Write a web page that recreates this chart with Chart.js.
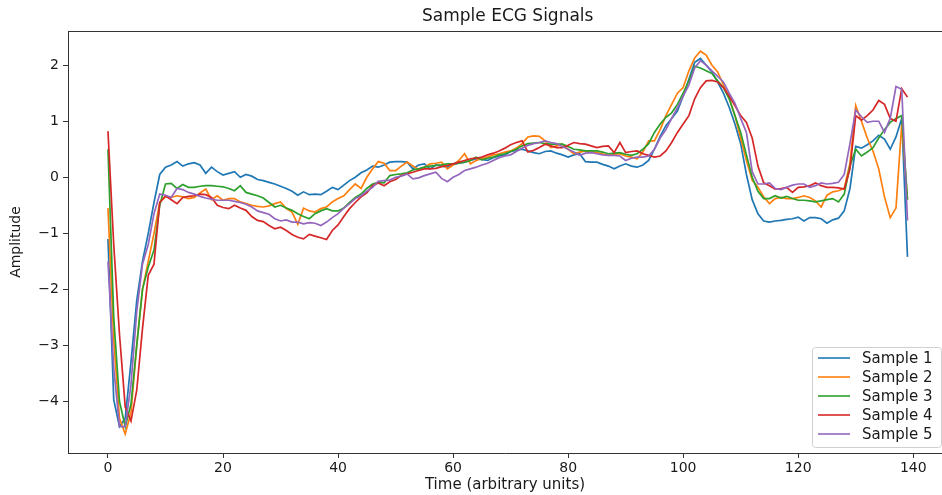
<!DOCTYPE html>
<html>
<head>
<meta charset="utf-8">
<script src="https://cdn.jsdelivr.net/npm/chart.js@4.4.1/dist/chart.umd.min.js"></script>
<style>
	html, body { margin: 0; padding: 0; background: #fff; }
	#wrap { width: 942px; height: 495px; }
</style>
</head>
<body>
<div id="wrap"><canvas id="ecgChart" width="942" height="495"></canvas></div>
<script>
// values, one per time step (0..139)
const sample1 = [
	-1.10, -3.97, -4.45, -4.30, -3.30, -2.20, -1.50, -1.00, -0.45, 0.05,
	0.18, 0.22, 0.28, 0.20, 0.24, 0.26, 0.22, 0.07, 0.18, 0.10,
	0.04, 0.07, 0.10, 0.00, 0.05, 0.02, -0.04, -0.06, -0.09, -0.12,
	-0.16, -0.20, -0.25, -0.32, -0.26, -0.31, -0.30, -0.31, -0.25, -0.18,
	-0.22, -0.14, -0.06, 0.00, 0.08, 0.13, 0.20, 0.18, 0.22, 0.27,
	0.28, 0.28, 0.27, 0.15, 0.22, 0.24, 0.15, 0.22, 0.20, 0.18,
	0.23, 0.25, 0.27, 0.30, 0.33, 0.32, 0.30, 0.35, 0.38, 0.40,
	0.46, 0.48, 0.50, 0.47, 0.44, 0.42, 0.46, 0.47, 0.43, 0.40,
	0.36, 0.40, 0.42, 0.28, 0.27, 0.27, 0.23, 0.20, 0.15, 0.20,
	0.24, 0.20, 0.18, 0.22, 0.30, 0.50, 0.73, 0.92, 1.05, 1.18,
	1.45, 1.75, 2.05, 2.12, 2.00, 1.88, 1.70, 1.50, 1.25, 0.95,
	0.60, 0.05, -0.40, -0.65, -0.78, -0.80, -0.78, -0.77, -0.75, -0.74,
	-0.71, -0.78, -0.72, -0.72, -0.74, -0.82, -0.76, -0.73, -0.60, -0.20,
	0.55, 0.52, 0.58, 0.65, 0.75, 0.68, 0.50, 0.72, 1.05, -1.42
];
const sample2 = [
	-0.55, -2.90, -4.30, -4.58, -4.20, -3.00, -2.00, -1.50, -1.00, -0.45,
	-0.35, -0.36, -0.33, -0.35, -0.38, -0.36, -0.28, -0.21, -0.40, -0.33,
	-0.41, -0.38, -0.38, -0.44, -0.47, -0.50, -0.52, -0.53, -0.51, -0.47,
	-0.44, -0.56, -0.62, -0.84, -0.55, -0.60, -0.62, -0.56, -0.53, -0.44,
	-0.38, -0.33, -0.22, -0.12, -0.20, 0.00, 0.15, 0.28, 0.25, 0.12,
	0.12, 0.20, 0.27, 0.20, 0.14, 0.18, 0.24, 0.25, 0.27, 0.15,
	0.22, 0.30, 0.42, 0.24, 0.30, 0.33, 0.36, 0.40, 0.42, 0.45,
	0.47, 0.52, 0.60, 0.72, 0.74, 0.73, 0.65, 0.53, 0.56, 0.59,
	0.50, 0.42, 0.45, 0.47, 0.46, 0.44, 0.42, 0.39, 0.41, 0.42,
	0.38, 0.36, 0.33, 0.45, 0.65, 0.65, 0.85, 1.10, 1.30, 1.50,
	1.60, 1.90, 2.13, 2.25, 2.18, 2.00, 1.88, 1.65, 1.42, 1.10,
	0.70, 0.30, -0.05, -0.18, -0.35, -0.47, -0.38, -0.36, -0.38, -0.38,
	-0.36, -0.33, -0.36, -0.42, -0.53, -0.32, -0.26, -0.24, -0.20, 0.25,
	1.28, 1.00, 0.70, 0.47, 0.15, -0.35, -0.72, -0.55, 0.95, -0.40
];
const sample3 = [
	0.50, -2.50, -4.00, -4.45, -4.05, -3.00, -2.00, -1.60, -1.30, -0.50,
	-0.12, -0.11, -0.20, -0.13, -0.18, -0.18, -0.16, -0.15, -0.15, -0.16,
	-0.17, -0.20, -0.24, -0.15, -0.27, -0.30, -0.33, -0.37, -0.45, -0.53,
	-0.50, -0.55, -0.59, -0.65, -0.70, -0.74, -0.65, -0.60, -0.56, -0.60,
	-0.60, -0.55, -0.45, -0.36, -0.30, -0.20, -0.12, -0.09, -0.10, 0.03,
	0.05, 0.06, 0.08, 0.13, 0.15, 0.18, 0.20, 0.21, 0.22, 0.24,
	0.24, 0.25, 0.27, 0.30, 0.36, 0.31, 0.34, 0.36, 0.40, 0.42,
	0.46, 0.50, 0.56, 0.60, 0.61, 0.62, 0.60, 0.59, 0.59, 0.59,
	0.55, 0.50, 0.49, 0.47, 0.47, 0.47, 0.45, 0.42, 0.43, 0.44,
	0.41, 0.39, 0.42, 0.50, 0.60, 0.80, 0.95, 1.07, 1.15, 1.30,
	1.50, 1.72, 1.98, 1.95, 1.90, 1.85, 1.72, 1.60, 1.40, 1.10,
	0.80, 0.40, 0.00, -0.25, -0.38, -0.38, -0.33, -0.37, -0.34, -0.38,
	-0.41, -0.41, -0.42, -0.44, -0.42, -0.40, -0.38, -0.44, -0.30, 0.20,
	0.50, 0.38, 0.45, 0.53, 0.70, 0.85, 0.98, 1.05, 1.10, -0.40
];
const sample4 = [
	0.82, -1.20, -2.80, -4.10, -4.35, -3.80, -2.70, -1.75, -1.55, -0.45,
	-0.33, -0.40, -0.47, -0.36, -0.34, -0.33, -0.30, -0.31, -0.36, -0.50,
	-0.54, -0.56, -0.50, -0.55, -0.59, -0.70, -0.77, -0.79, -0.86, -0.92,
	-0.89, -0.95, -1.02, -1.07, -1.10, -1.02, -1.05, -1.08, -1.11, -0.95,
	-0.85, -0.70, -0.56, -0.45, -0.35, -0.28, -0.15, -0.10, -0.15, -0.08,
	-0.04, 0.03, 0.06, 0.09, 0.12, 0.15, 0.15, 0.16, 0.19, 0.21,
	0.24, 0.27, 0.30, 0.33, 0.34, 0.36, 0.40, 0.43, 0.47, 0.52,
	0.58, 0.62, 0.65, 0.45, 0.48, 0.53, 0.59, 0.56, 0.53, 0.53,
	0.57, 0.62, 0.60, 0.59, 0.56, 0.53, 0.55, 0.56, 0.44, 0.62,
	0.44, 0.46, 0.47, 0.42, 0.39, 0.36, 0.38, 0.47, 0.62, 0.80,
	0.95, 1.10, 1.40, 1.60, 1.72, 1.73, 1.70, 1.60, 1.45, 1.28,
	1.10, 0.98, 0.70, 0.20, -0.10, -0.15, -0.21, -0.20, -0.18, -0.27,
	-0.18, -0.17, -0.15, -0.10, -0.15, -0.18, -0.18, -0.19, -0.21, 0.15,
	1.10, 1.02, 1.10, 1.20, 1.37, 1.30, 1.05, 1.00, 1.58, 1.43
];
const sample5 = [
	-1.50, -3.40, -4.45, -4.45, -3.70, -2.40, -1.55, -1.20, -0.65, -0.30,
	-0.32, -0.36, -0.20, -0.22, -0.27, -0.30, -0.34, -0.37, -0.39, -0.41,
	-0.41, -0.41, -0.43, -0.45, -0.48, -0.53, -0.60, -0.63, -0.66, -0.74,
	-0.78, -0.76, -0.80, -0.80, -0.83, -0.81, -0.82, -0.86, -0.80, -0.72,
	-0.65, -0.55, -0.47, -0.38, -0.33, -0.25, -0.18, -0.07, -0.06, -0.05,
	0.00, 0.02, 0.06, -0.03, -0.01, 0.03, 0.06, 0.09, -0.02, -0.08,
	0.00, 0.05, 0.12, 0.15, 0.18, 0.22, 0.25, 0.30, 0.35, 0.38,
	0.40, 0.46, 0.52, 0.57, 0.60, 0.62, 0.65, 0.62, 0.60, 0.55,
	0.50, 0.45, 0.39, 0.43, 0.44, 0.42, 0.40, 0.39, 0.39, 0.38,
	0.30, 0.34, 0.36, 0.36, 0.38, 0.50, 0.70, 0.85, 1.05, 1.24,
	1.45, 1.65, 1.95, 2.08, 2.00, 1.90, 1.80, 1.70, 1.50, 1.32,
	1.05, 0.80, 0.10, -0.12, -0.12, -0.10, -0.20, -0.22, -0.18, -0.14,
	-0.12, -0.12, -0.18, -0.15, -0.10, -0.12, -0.11, -0.09, 0.05, 0.60,
	1.20, 1.08, 0.98, 1.00, 1.00, 0.80, 1.05, 1.62, 1.57, -0.77
];

const seriesNames = ['Sample 1', 'Sample 2', 'Sample 3', 'Sample 4', 'Sample 5'];
const seriesValues = [sample1, sample2, sample3, sample4, sample5];
const seriesColors = ['#1f77b4', '#ff7f0e', '#2ca02c', '#d62728', '#9467bd'];
const timeSteps = sample1.map((_, i) => i);
const xTicks = [0, 20, 40, 60, 80, 100, 120, 140];
const yTicks = [-4, -3, -2, -1, 0, 1, 2];
const chartTitle = 'Sample ECG Signals';

const FONT = 'DejaVu Sans, Verdana, sans-serif';
const TEXT = '#1a1a1a';
const X_MIN = -6.95, X_END = 145.95; // full axes extent, the right part is cut by the canvas

Chart.defaults.font.family = FONT;
Chart.defaults.color = TEXT;

// title centred over the whole axes (which run past the canvas edge) + top spine
let titleAndFrame = {
	id: 'titleAndFrame',
	afterDraw (chart) {
		let { ctx, chartArea, scales: { x } } = chart;
		ctx.save();
		ctx.beginPath();
		ctx.moveTo(chartArea.left, chartArea.top + 0.5);
		ctx.lineTo(chartArea.right, chartArea.top + 0.5);
		ctx.lineWidth = 1;
		ctx.strokeStyle = '#333';
		ctx.stroke();
		let centerX = (x.getPixelForValue(X_MIN) + x.getPixelForValue(X_END)) / 2;
		ctx.font = '17px ' + FONT;
		ctx.fillStyle = TEXT;
		ctx.textAlign = 'center';
		ctx.textBaseline = 'middle';
		ctx.fillText(chartTitle, centerX, 17);
		ctx.restore();
	},
};

// matplotlib style legend, inside the axes at lower right
let innerLegend = {
	id: 'innerLegend',
	afterDraw (chart) {
		let { ctx, chartArea } = chart;
		let boxW = 129, boxH = 100;
		let x = chartArea.right - boxW - 1;
		let y = chartArea.bottom - boxH - 6;
		ctx.save();
		ctx.beginPath();
		ctx.roundRect(x + 0.5, y + 0.5, boxW, boxH, 3);
		ctx.fillStyle = 'rgba(255,255,255,0.8)';
		ctx.fill();
		ctx.strokeStyle = '#d0d0d0';
		ctx.lineWidth = 1;
		ctx.stroke();
		ctx.font = '15px ' + FONT;
		ctx.textBaseline = 'middle';
		ctx.fillStyle = TEXT;
		chart.data.datasets.forEach((ds, i) => {
			let rowY = y + 11 + i * 19;
			ctx.beginPath();
			ctx.moveTo(x + 6, rowY);
			ctx.lineTo(x + 38, rowY);
			ctx.strokeStyle = ds.borderColor;
			ctx.lineWidth = 1.6;
			ctx.stroke();
			ctx.fillText(ds.label, x + 50, rowY + 1);
		});
		ctx.restore();
	},
};

let datasets = seriesNames.map((name, i) => ({
	label: name,
	data: seriesValues[i].map((v, t) => ({ x: timeSteps[t], y: v })),
	borderColor: seriesColors[i],
	backgroundColor: seriesColors[i],
	borderWidth: 1.7,
	pointRadius: 0,
	tension: 0,
	order: seriesNames.length - i,
}));

let fmtTick = v => (v < 0 ? '\u2212' + Math.abs(v) : String(v));

new Chart(document.getElementById('ecgChart'), {
	type: 'line',
	data: { datasets },
	options: {
		responsive: false,
		devicePixelRatio: 1,
		animation: false,
		layout: { padding: { left: 0, right: 0, top: 31, bottom: 0 } },
		plugins: {
			legend: { display: false },
			tooltip: { enabled: false },
			title: { display: false },
		},
		scales: {
			x: {
				type: 'linear',
				min: X_MIN,
				max: 145,
				afterBuildTicks: s => { s.ticks = xTicks.map(v => ({ value: v })); },
				afterFit: s => { s.height = 42; },
				grid: { drawOnChartArea: false, drawTicks: true, tickLength: 5, color: '#333' },
				border: { display: true, color: '#333', width: 1 },
				ticks: { color: TEXT, font: { size: 14 }, padding: 2, maxRotation: 0, autoSkip: false, callback: fmtTick },
				title: { display: true, text: 'Time (arbitrary units)', color: TEXT, font: { size: 15 }, padding: { top: 0, bottom: 1 } },
			},
			y: {
				min: -4.92,
				max: 2.61,
				afterBuildTicks: s => { s.ticks = yTicks.map(v => ({ value: v })); },
				afterFit: s => { s.width = 68; },
				grid: { drawOnChartArea: false, drawTicks: true, tickLength: 5, color: '#333' },
				border: { display: true, color: '#333', width: 1 },
				ticks: { color: TEXT, font: { size: 14 }, padding: 4, autoSkip: false, callback: fmtTick },
				title: { display: true, text: 'Amplitude', color: TEXT, font: { size: 14 }, padding: { top: 8, bottom: 0 } },
			},
		},
	},
	plugins: [ titleAndFrame, innerLegend ],
});
</script>
</body>
</html>
